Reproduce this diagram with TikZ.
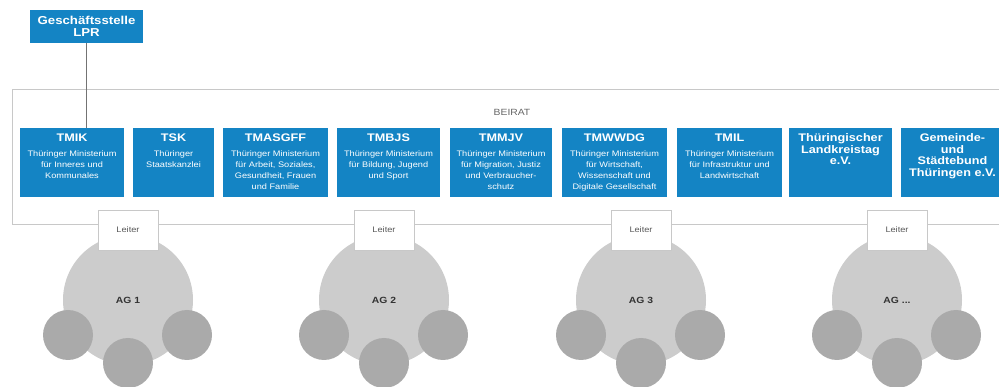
\documentclass[tikz,border=0pt]{standalone}
\usepackage{fontspec}
\setmainfont{Liberation Sans}[FakeStretch=1.15]
\usetikzlibrary{positioning}
\definecolor{lprblue}{RGB}{20,132,196}
\definecolor{framegray}{RGB}{200,200,200}
\definecolor{agbig}{RGB}{204,204,204}
\definecolor{agsmall}{RGB}{170,170,170}
\tikzset{
  ministry/.style={fill=lprblue, minimum height=69pt, inner sep=0pt},
  mtext/.style={text=white, align=center, inner sep=0pt, font=\fontsize{8}{11}\selectfont},
  mtitle/.style={text=white, align=center, inner sep=0pt, font=\fontsize{11}{11.5}\selectfont\bfseries},
  leiter/.style={draw=framegray, fill=white, minimum width=60pt, minimum height=40pt, text=black!65, font=\fontsize{8}{10}\selectfont},
  agcircle/.style={circle, fill=agbig, minimum size=130pt, inner sep=0pt, text=black!80, font=\fontsize{9}{10}\selectfont\bfseries},
  member/.style={circle, fill=agsmall, minimum size=50pt, inner sep=0pt},
}
\newcommand{\mtit}[1]{{\fontsize{11}{12}\selectfont\bfseries #1}\\[4pt]}
\begin{document}
\begin{tikzpicture}[x=1pt,y=-1pt]
\useasboundingbox (0,0) rectangle (999,387);
% Beirat
\draw[framegray, line width=1pt] (12,90) rectangle (1012,225);
\node[text=black!60, font=\fontsize{9}{10}\selectfont] (beirat) at (512,112) {BEIRAT};
\node[ministry, minimum width=113pt, minimum height=33pt, align=center, text=white, font=\fontsize{11.5}{12.5}\selectfont\bfseries] (gs) at (86.5,26.5) {Geschäftsstelle\\LPR};
% ministries
\node[ministry, minimum width=104pt] (tmik) at (72,162.5) {};
\node[ministry, minimum width=81pt] (tsk) at (173.5,162.5) {};
\node[ministry, minimum width=105pt] (tmasgff) at (275.5,162.5) {};
\node[ministry, minimum width=103pt] (tmbjs) at (388.5,162.5) {};
\node[ministry, minimum width=102pt] (tmmjv) at (501,162.5) {};
\node[ministry, minimum width=105pt] (tmwwdg) at (614.5,162.5) {};
\node[ministry, minimum width=105pt] (tmil) at (729.5,162.5) {};
\node[ministry, minimum width=103pt] (lkt) at (840.5,162.5) {};
\node[ministry, minimum width=103pt] (gstb) at (952.5,162.5) {};
\node[mtext, below=6pt of tmik.north] (tmikt) {\mtit{TMIK}Thüringer Ministerium\\für Inneres und\\Kommunales};
\node[mtext, below=6pt of tsk.north] (tskt) {\mtit{TSK}Thüringer\\Staatskanzlei};
\node[mtext, below=6pt of tmasgff.north] (tmasgfft) {\mtit{TMASGFF}Thüringer Ministerium\\für Arbeit, Soziales,\\Gesundheit, Frauen\\und Familie};
\node[mtext, below=6pt of tmbjs.north] (tmbjst) {\mtit{TMBJS}Thüringer Ministerium\\für Bildung, Jugend\\und Sport};
\node[mtext, below=6pt of tmmjv.north] (tmmjvt) {\mtit{TMMJV}Thüringer Ministerium\\für Migration, Justiz\\und Verbraucher-\\schutz};
\node[mtext, below=6pt of tmwwdg.north] (tmwwdgt) {\mtit{TMWWDG}Thüringer Ministerium\\für Wirtschaft,\\Wissenschaft und\\Digitale Gesellschaft};
\node[mtext, below=6pt of tmil.north] (tmilt) {\mtit{TMIL}Thüringer Ministerium\\für Infrastruktur und\\Landwirtschaft};
\node[mtitle, below=6pt of lkt.north] (lktt) {Thüringischer\\Landkreistag\\e.V.};
\node[mtitle, below=6pt of gstb.north] (gstbt) {Gemeinde-\\und\\Städtebund\\Thüringen e.V.};
\draw[black!55, line width=1.3pt] (gs.south) -- (gs.south |- tmik.north);
% working groups
\node[agcircle] (ag1) at (128,300) {AG 1};
\node[agcircle] (ag2) at (384,300) {AG 2};
\node[agcircle] (ag3) at (641,300) {AG 3};
\node[agcircle] (ag4) at (897,300) {AG ...};
\node[member] (ag1a) at (68,335) {};
\node[member] (ag1b) at (128,363) {};
\node[member] (ag1c) at (187,335) {};
\node[member] (ag2a) at (324,335) {};
\node[member] (ag2b) at (384,363) {};
\node[member] (ag2c) at (443,335) {};
\node[member] (ag3a) at (581,335) {};
\node[member] (ag3b) at (641,363) {};
\node[member] (ag3c) at (700,335) {};
\node[member] (ag4a) at (837,335) {};
\node[member] (ag4b) at (897,363) {};
\node[member] (ag4c) at (956,335) {};
\node[leiter] (ag1l) at (128,230) {Leiter};
\node[leiter] (ag2l) at (384,230) {Leiter};
\node[leiter] (ag3l) at (641,230) {Leiter};
\node[leiter] (ag4l) at (897,230) {Leiter};
\end{tikzpicture}
\end{document}
